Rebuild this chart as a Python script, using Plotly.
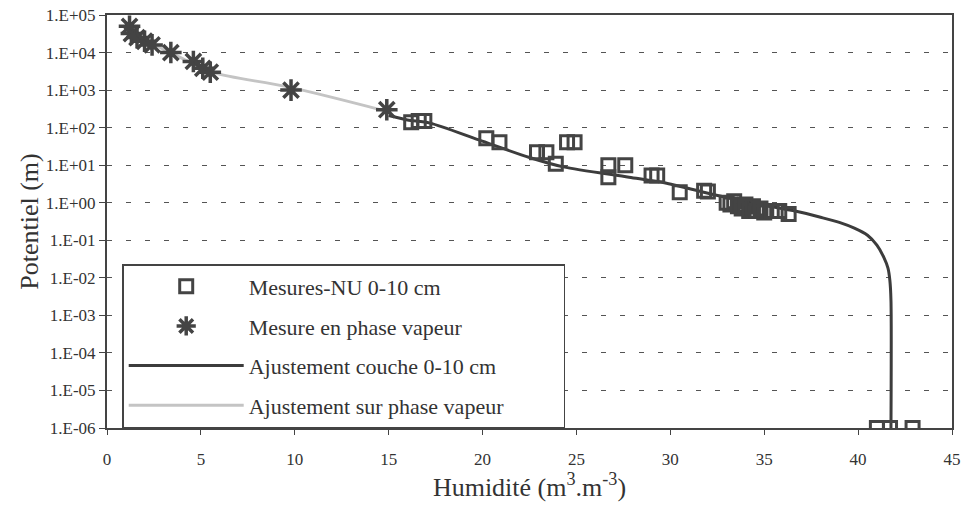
import plotly.graph_objects as go

# Mesures-NU 0-10 cm (squares)
sq_x = [16.2, 16.6, 16.9, 20.2, 20.9, 22.9, 23.4, 23.9, 24.5, 24.9, 26.7, 26.7, 27.6,
        29.0, 29.3, 30.5, 31.8, 32.0, 33.0, 33.2, 33.4, 33.6, 33.8, 34.0, 34.2, 34.4,
        34.6, 34.8, 35.0, 35.4, 35.8, 36.3, 41.0, 41.7, 42.9]
sq_y = [140, 150, 150, 52, 41, 22, 22, 11, 41, 41, 10, 4.8, 10,
        5.3, 5.3, 1.9, 2.1, 2.0, 1.0, 0.9, 1.1, 0.8, 0.7, 0.9, 0.6, 0.8,
        0.6, 0.7, 0.55, 0.6, 0.6, 0.5, 1e-6, 1e-6, 1e-6]

# Mesure en phase vapeur (asterisks)
ast_x = [1.2, 1.3, 1.6, 2.0, 2.4, 3.4, 4.6, 5.1, 5.5, 9.8, 14.9]
ast_y = [5.0e4, 3.2e4, 2.5e4, 2.0e4, 1.6e4, 1.0e4, 5.8e3, 3.8e3, 3.0e3, 1.0e3, 300]

# Ajustement couche 0-10 cm
fit_x = [15.0, 16.0, 17.2, 19.8, 22.5, 24.3, 27.8, 29.8, 32.4, 34.5, 36.7, 38.0,
         39.0, 39.8, 40.5, 41.0, 41.37, 41.59, 41.69, 41.75, 41.75]
fit_y = [210, 160, 132, 47, 16, 9, 4.8, 3.3, 1.6, 0.95, 0.59, 0.41,
         0.30, 0.21, 0.136, 0.074, 0.035, 0.018, 0.0086, 0.0025, 1e-6]

# Ajustement sur phase vapeur
vap_x = [1.2, 2.5, 4.0, 5.6, 9.7, 14.8]
vap_y = [5.0e4, 1.7e4, 7.0e3, 3.0e3, 1.2e3, 280]

ytick_vals = [1e-6, 1e-5, 1e-4, 1e-3, 1e-2, 1e-1, 1, 10, 100, 1e3, 1e4, 1e5]
ytick_text = ["1.E-06", "1.E-05", "1.E-04", "1.E-03", "1.E-02", "1.E-01",
              "1.E+00", "1.E+01", "1.E+02", "1.E+03", "1.E+04", "1.E+05"]
xtick_vals = [0, 5, 10, 15, 20, 25, 30, 35, 40, 45]

dark = "#444444"
txt = "#333333"
font = "Times New Roman, Liberation Serif, DejaVu Serif, serif"
pad = "\u00a0" * 10

fig = go.Figure()
fig.add_trace(go.Scatter(x=vap_x, y=vap_y, mode="lines", name="Ajustement sur phase vapeur",
                         line=dict(color="#c4c4c4", width=3, shape="spline"), showlegend=False))
fig.add_trace(go.Scatter(x=fit_x, y=fit_y, mode="lines", name="Ajustement couche 0-10 cm",
                         line=dict(color="#3c3c3c", width=3, shape="spline", smoothing=0.8),
                         showlegend=False))
fig.add_trace(go.Scatter(x=sq_x, y=sq_y, mode="markers", name="Mesures-NU 0-10 cm",
                         legendgroup="a",
                         marker=dict(symbol="square-open", size=13, color=dark,
                                     line=dict(width=3, color=dark))))
fig.add_trace(go.Scatter(x=ast_x, y=ast_y, mode="markers", name="Mesure en phase vapeur",
                         legendgroup="b",
                         marker=dict(symbol="asterisk-open", size=18, color=dark,
                                     line=dict(width=3.5, color=dark))))
# legend-only entries for the fitted lines, in the original order
fig.add_trace(go.Scatter(x=[None], y=[None], mode="lines", name="Ajustement couche 0-10 cm",
                         legendgroup="c", line=dict(color="#3c3c3c", width=3)))
fig.add_trace(go.Scatter(x=[None], y=[None], mode="lines", name="Ajustement sur phase vapeur" + pad,
                         legendgroup="d", line=dict(color="#c4c4c4", width=3)))

fig.update_layout(
    width=963, height=512,
    margin=dict(l=107, r=11, t=15, b=84, autoexpand=False),
    paper_bgcolor="white", plot_bgcolor="white",
    font=dict(family=font, color=txt, size=15),
    legend=dict(x=0.018, y=0.397, xanchor="left", yanchor="top",
                bgcolor="white", bordercolor="#444444", borderwidth=1.5,
                font=dict(size=22, family=font, color=txt),
                itemwidth=115, tracegroupgap=8),
    xaxis=dict(range=[0, 45], tickvals=xtick_vals, ticks="outside", ticklen=5,
               tickcolor=dark, showgrid=False, zeroline=False, automargin=False,
               showline=True, linecolor=dark, linewidth=2, mirror=True,
               tickfont=dict(size=17, family=font, color=txt),
               ticklabelstandoff=10,
               title=dict(text="Humidité (m<sup>3</sup>.m<sup>-3</sup>)",
                          font=dict(size=26, family=font, color=txt), standoff=6)),
    yaxis=dict(type="log", range=[-6, 5], tickvals=ytick_vals, ticktext=ytick_text,
               ticks="outside", ticklen=6, tickcolor=dark, automargin=False,
               showgrid=True, gridcolor="#555555", gridwidth=1.3, griddash="5px,14px",
               zeroline=False, showline=True, linecolor=dark, linewidth=2, mirror=True,
               tickfont=dict(size=17, family=font, color=txt),
               title=dict(text="Potentiel (m)", font=dict(size=26, family=font, color=txt),
                          standoff=0)),
)

fig.write_html("out.html", config={"displayModeBar": False},
               post_script="document.body.style.margin='0';")
